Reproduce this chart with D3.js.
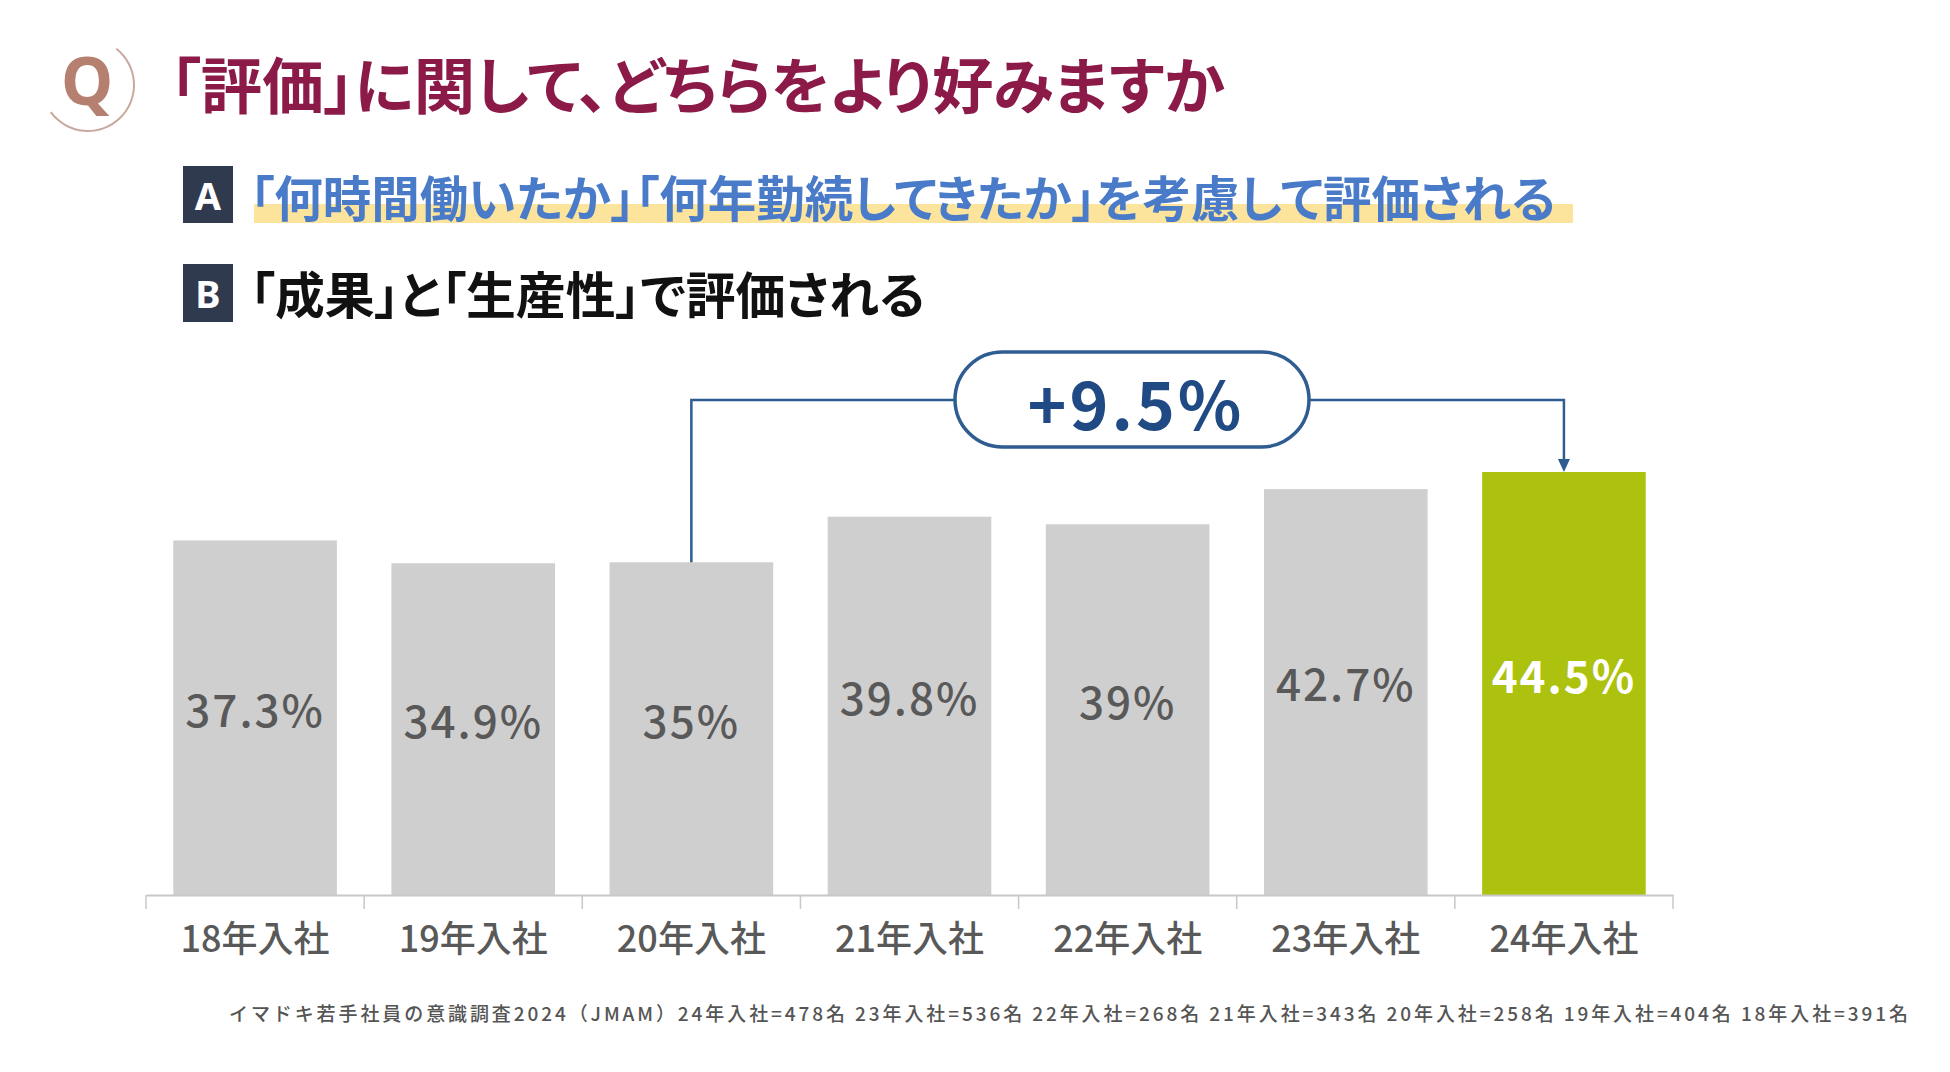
<!DOCTYPE html>
<html><head><meta charset="utf-8">
<script src="https://cdn.jsdelivr.net/npm/d3@7"></script>
<style>
html,body{margin:0;padding:0;background:#fff;}
svg{display:block;}
text{font-family:"Noto Sans CJK JP","Noto Sans",sans-serif;}
.palt{font-feature-settings:"palt" 1;}
</style></head>
<body>
<svg id="chart" width="1950" height="1072"></svg>
<script>
const titleText = "「評価」に関して、どちらをより好みますか";
const optionA = "「何時間働いたか」「何年勤続してきたか」を考慮して評価される";
const optionB = "「成果」と「生産性」で評価される";
const categories = ["18年入社","19年入社","20年入社","21年入社","22年入社","23年入社","24年入社"];
const values = [37.3, 34.9, 35, 39.8, 39, 42.7, 44.5];
const valueLabels = ["37.3%","34.9%","35%","39.8%","39%","42.7%","44.5%"];
const highlightIndex = 6;
const compareFrom = "20年入社";
const compareTo = "24年入社";
const diffLabel = "+9.5%";
const footnote = "イマドキ若手社員の意識調査2024（JMAM）24年入社=478名  23年入社=536名  22年入社=268名  21年入社=343名  20年入社=258名  19年入社=404名  18年入社=391名";

const svg = d3.select("#chart");

function fitWidth(sel, target, base){
  const w = sel.node().getComputedTextLength();
  sel.attr("font-size", base*target/w);
}

// Q icon
const qg = svg.append("g").attr("transform","translate(88,85)");
qg.append("path")
  .attr("d", d3.arc()({innerRadius:45, outerRadius:47, startAngle:38*Math.PI/180, endAngle:234*Math.PI/180}))
  .attr("fill","#c9a89e");
qg.append("text").text("Q").attr("x",-1).attr("y",-6)
  .attr("text-anchor","middle").attr("dominant-baseline","central")
  .attr("font-size",66).attr("font-weight",700).attr("fill","#b5806f")
  .style("font-family","'Noto Sans','Open Sans',sans-serif");

// Title
const tt = svg.append("text").attr("class","palt").text(titleText).attr("x",170).attr("y",82)
  .attr("dominant-baseline","central").attr("font-size",54).attr("font-weight",700)
  .attr("fill","#8c1a48");
fitWidth(tt, 1055, 54);

// Option A
svg.append("rect").attr("x",254).attr("y",204).attr("width",1319).attr("height",19).attr("fill","#fde49c");
svg.append("rect").attr("x",183).attr("y",166).attr("width",50).attr("height",57).attr("fill","#2f3a4f");
svg.append("text").text("A").attr("x",208).attr("y",195).attr("text-anchor","middle")
  .attr("dominant-baseline","central").attr("font-size",38).attr("font-weight",700).attr("fill","#fff")
  .style("font-family","'Noto Sans',sans-serif");
const ta = svg.append("text").attr("class","palt").text(optionA).attr("x",250).attr("y",196)
  .attr("dominant-baseline","central").attr("font-size",44).attr("font-weight",700).attr("fill","#4a7bc8");
fitWidth(ta, 1306, 44);

// Option B
svg.append("rect").attr("x",183).attr("y",264).attr("width",50).attr("height",58).attr("fill","#2f3a4f");
svg.append("text").text("B").attr("x",208).attr("y",293).attr("text-anchor","middle")
  .attr("dominant-baseline","central").attr("font-size",38).attr("font-weight",700).attr("fill","#fff")
  .style("font-family","'Noto Sans',sans-serif");
const tb = svg.append("text").attr("class","palt").text(optionB).attr("x",250).attr("y",292)
  .attr("dominant-baseline","central").attr("font-size",44).attr("font-weight",700).attr("fill","#111");
fitWidth(tb, 675, 44);

// Scales
const x = d3.scaleBand().domain(categories).range([146,1673]).paddingInner(0.25).paddingOuter(0.125);
const y = d3.scaleLinear().domain([0,44.5]).range([895,472]);

// Bars
const data = categories.map((c,i)=>({c, v:values[i], label:valueLabels[i], hi:i===highlightIndex}));
svg.append("g").selectAll("rect").data(data).join("rect")
  .attr("x",d=>x(d.c)).attr("y",d=>y(d.v)).attr("width",x.bandwidth()).attr("height",d=>y(0)-y(d.v))
  .attr("fill",d=>d.hi?"#adc20e":"#d0cfcf");

svg.append("g").selectAll("text").data(data).join("text")
  .attr("x",d=>x(d.c)+x.bandwidth()/2).attr("y",d=>(y(d.v)+y(0))/2-10)
  .attr("text-anchor","middle").attr("dominant-baseline","central")
  .attr("font-size",44).attr("font-weight",d=>d.hi?700:500).attr("letter-spacing",2)
  .attr("fill",d=>d.hi?"#fff":"#595959").text(d=>d.label);

// Axis
const axis = d3.axisBottom(x).tickSize(0).tickSizeOuter(0);
const ag = svg.append("g").attr("transform",`translate(0,${y(0)})`).call(axis);
ag.select(".domain").attr("stroke","#c8c8c8").attr("stroke-width",2);
ag.selectAll(".tick text").attr("font-size",36).attr("font-weight",500).attr("fill","#595959")
  .attr("y",44).attr("dy","0.35em").style("font-family","'Noto Sans CJK JP',sans-serif");
const bounds = d3.range(categories.length+1).map(i=>x.range()[0]+i*x.step());
ag.selectAll(".bnd").data(bounds).join("line").attr("class","bnd")
  .attr("x1",d=>d).attr("x2",d=>d).attr("y1",0).attr("y2",14)
  .attr("stroke","#c8c8c8").attr("stroke-width",1.5);

// Annotation
const navy = "#2f5c91";
const x0 = x(compareFrom)+x.bandwidth()/2;
const x1 = x(compareTo)+x.bandwidth()/2;
const iFrom = categories.indexOf(compareFrom), iTo = categories.indexOf(compareTo);
const lineY = 400;
svg.append("path")
  .attr("d",`M${x0},${y(values[iFrom])}V${lineY}H${x1}V${y(values[iTo])-10}`)
  .attr("fill","none").attr("stroke",navy).attr("stroke-width",2.5);
svg.append("path")
  .attr("d",`M${x1-6},${y(values[iTo])-13}L${x1+6},${y(values[iTo])-13}L${x1},${y(values[iTo])}Z`)
  .attr("fill",navy);
const pill = {x:955, y:352, w:354, h:95};
svg.append("rect").attr("x",pill.x).attr("y",pill.y).attr("width",pill.w).attr("height",pill.h)
  .attr("rx",pill.h/2).attr("ry",pill.h/2).attr("fill","#fff").attr("stroke",navy).attr("stroke-width",3.5);
svg.append("text").text(diffLabel).attr("x",pill.x+pill.w/2+4).attr("y",pill.y+pill.h/2+1)
  .attr("text-anchor","middle").attr("dominant-baseline","central")
  .attr("font-size",66).attr("font-weight",700).attr("letter-spacing",3).attr("fill","#1f4a84");

// Footnote
svg.append("text").text(footnote).attr("x",229).attr("y",1012)
  .attr("dominant-baseline","central").attr("textLength",1679).attr("lengthAdjust","spacing")
  .attr("font-size",19).attr("font-weight",500).attr("fill","#555");
</script>
</body></html>
